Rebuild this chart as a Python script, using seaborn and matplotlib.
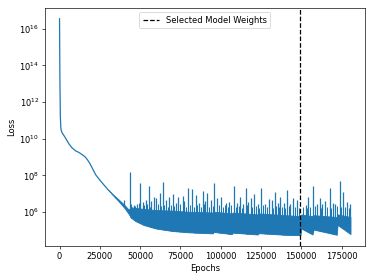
import numpy as np
import pandas as pd
import matplotlib
matplotlib.use("Agg")
import matplotlib.pyplot as plt
import seaborn as sns

# ---------------------------------------------------------
# Values
# ---------------------------------------------------------

# smooth start of the training curve
smooth_epochs = [0, 200, 500, 800, 1000, 1500, 2500, 3700, 5000, 6000, 7900, 10000,
                 12000, 14100, 15500, 16500, 17500, 19000, 22400, 25000, 27600, 30000]
smooth_loss = [3.5e16, 3.2e13, 1.6e11, 4.0e10, 3.0e10, 2.2e10, 1.6e10, 1.1e10, 7.0e9,
               5.0e9, 3.1e9, 2.2e9, 1.8e9, 1.35e9, 1.1e9, 8.9e8, 6.8e8, 4.2e8, 1.1e8,
               5.6e7, 3.0e7, 1.7e7]

# dense oscillating band (lower envelope and top of the solid part)
band_epochs = [30000, 33000, 36000, 40000, 42500, 43300, 44000, 47000, 52000, 60000,
               70000, 80000, 95000, 95500, 107000, 107500, 123000, 123500, 140000,
               149500, 150000, 157000, 157500, 172000, 172500, 180500]
band_low = [1.7e7, 8.5e6, 4.5e6, 1.8e6, 8.9e5, 7.1e5, 5.2e5, 3.3e5, 2.0e5, 1.26e5,
            9.3e4, 7.9e4, 6.9e4, 8.3e4, 6.3e4, 7.6e4, 6.0e4, 7.1e4, 5.8e4,
            5.5e4, 1.26e5, 6.0e4, 1.12e5, 5.8e4, 2.0e5, 6.3e4]
band_high = [1.7e7, 9.5e6, 5.5e6, 2.6e6, 1.5e6, 1.4e6, 1.8e6, 1.7e6, 1.5e6, 1.3e6,
             1.2e6, 1.05e6, 9.5e5, 1.05e6, 8.5e5, 9.5e5, 7.5e5, 8.5e5, 6.8e5,
             6.0e5, 7.5e5, 6.0e5, 6.8e5, 5.4e5, 7.5e5, 5.4e5]

# tall loss spikes above the band
spike_epochs = [40000, 43500, 45000, 46200, 48000, 50000, 51500, 53500, 55600, 57000,
                58700, 59700, 62400, 64100, 66000, 68000, 70500, 72000, 73600, 76300,
                77500, 79500, 82000, 84600, 86500, 88800, 90500, 91800, 94000, 96000,
                97700, 100200, 103300, 105400, 108100, 110100, 112200, 114000, 115700,
                117000, 118800, 120500, 123000, 125100, 127600, 130200, 131700, 133800,
                135500, 137100, 139000, 141300, 143000, 144800, 147500, 152700, 154100,
                157200, 159900, 161400, 163000, 164500, 167600, 169700, 170700, 173800,
                175900, 178600, 180000]
spike_peaks = [4.6e6, 1.6e8, 2.0e6, 2.4e6, 2.8e6, 3.7e7, 3.6e6, 4.6e6, 2.5e7, 4.0e6,
               6.9e6, 5.6e6, 1.05e7, 4.6e7, 4.6e6, 6.9e6, 9.3e6, 3.2e6, 6.9e6, 7.9e6,
               4.0e6, 2.0e7, 1.8e7, 8.5e6, 3.2e6, 1.4e7, 4.0e6, 1.05e7, 4.6e6, 3.7e7,
               5.6e6, 6.9e6, 3.0e6, 3.6e6, 2.5e7, 3.2e6, 6.3e6, 2.8e6, 2.1e7,
               3.5e6, 5.6e6, 9.3e6, 2.6e6, 2.1e7, 2.8e6, 5.1e6, 4.6e6, 1.2e7,
               3.2e6, 6.9e6, 3.2e6, 1.6e7, 2.8e6, 5.6e6, 4.6e6, 2.4e6, 6.9e6,
               2.5e7, 2.8e6, 5.6e6, 2.8e6, 4.0e6, 2.0e7, 3.2e6, 2.8e6, 5.0e7,
               1.3e7, 3.5e6, 2.6e6]

# small spikes that make the top of the band ragged
minor_epochs = [44500, 47000, 49000, 52500, 54500, 56300, 61000, 63000, 65000, 67000,
                69200, 71200, 74800, 78500, 80800, 83300, 85500, 87500, 89700, 93000,
                95000, 99000, 101500, 102500, 104500, 106500, 109200, 111200, 113000,
                116300, 119700, 121800, 124000, 126300, 128900, 132700, 134600, 136300,
                138100, 140200, 142200, 146200, 148500, 151200, 153500, 155600, 158500,
                162200, 165800, 168600, 172300, 174900, 177300, 179300]
minor_peaks = [2.6e6, 2.2e6, 3.0e6, 2.4e6, 2.8e6, 2.0e6, 2.6e6, 2.2e6, 2.5e6, 1.9e6,
               2.4e6, 2.1e6, 2.7e6, 1.8e6, 2.5e6, 2.0e6, 2.3e6, 1.9e6, 2.6e6, 2.0e6,
               2.2e6, 2.4e6, 1.8e6, 2.3e6, 2.0e6, 2.5e6, 1.9e6, 2.2e6, 1.7e6,
               2.3e6, 1.8e6, 2.1e6, 1.7e6, 2.4e6, 1.9e6, 1.6e6, 2.2e6, 1.8e6,
               2.0e6, 1.7e6, 2.1e6, 1.8e6, 1.6e6, 2.0e6, 1.7e6, 1.9e6, 2.2e6,
               1.7e6, 2.0e6, 1.6e6, 2.1e6, 1.8e6, 1.9e6, 1.6e6]

selected_epoch = 149500

# ---------------------------------------------------------
# Plot
# ---------------------------------------------------------
fig = plt.figure(figsize=(374 / 60, 280 / 60), dpi=60)
ax = fig.add_axes([0.1203, 0.1214, 0.8556, 0.85])

df_smooth = pd.DataFrame({'Epochs': smooth_epochs, 'Loss': smooth_loss})
sns.lineplot(data=df_smooth, x='Epochs', y='Loss', ax=ax, color='C0', linewidth=1.5)

ax.fill_between(band_epochs, band_low, band_high, color='C0', linewidth=1.0)
spike_base = np.interp(spike_epochs, band_epochs, band_low)
ax.vlines(spike_epochs, spike_base, spike_peaks, color='C0', linewidth=1.5)
minor_base = np.interp(minor_epochs, band_epochs, band_low)
ax.vlines(minor_epochs, minor_base, minor_peaks, color='C0', linewidth=1.2)

ax.axvline(x=selected_epoch, color='black', linestyle='--', label='Selected Model Weights')

ax.set_yscale('log')
ax.set_xlabel('Epochs')
ax.set_ylabel('Loss')
ax.legend(loc='upper center')

fig.savefig('out.png', dpi=60)
